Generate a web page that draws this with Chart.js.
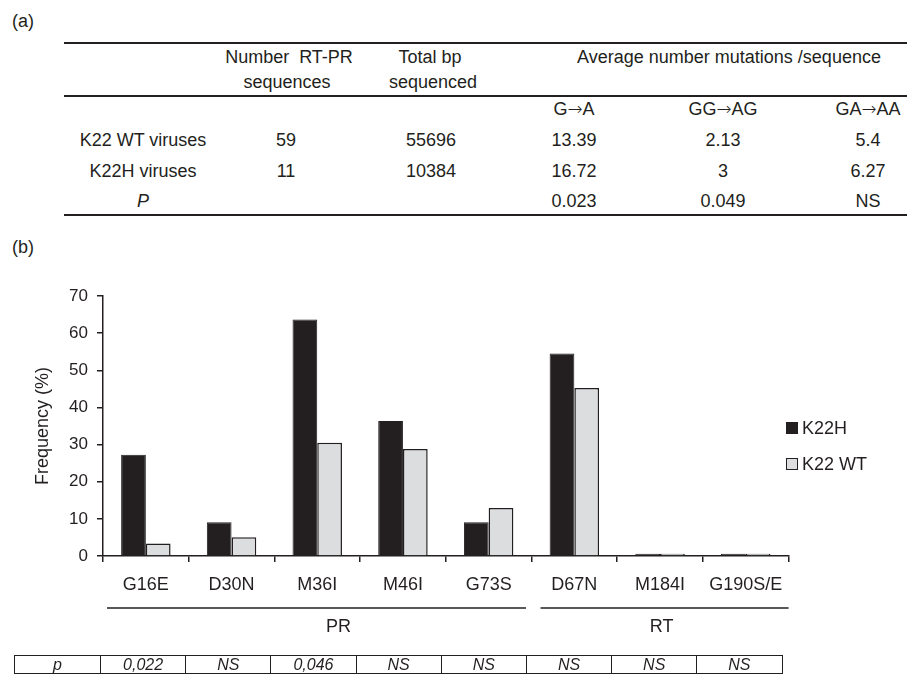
<!DOCTYPE html>
<html>
<head>
<meta charset="utf-8">
<script src="https://cdn.jsdelivr.net/npm/chart.js@4.4.1/dist/chart.umd.min.js"></script>
<style>
  body { margin: 0; background: #fff; }
  #page { position: relative; width: 907px; height: 676px; overflow: hidden;
          font-family: "Liberation Sans", Arial, sans-serif; color: #231f20; }
  .t { position: absolute; transform: translate(-50%, -50%); white-space: pre;
       font-size: 18px; line-height: 18px; }
  .arrow { font-family: "DejaVu Sans", sans-serif; font-weight: 200; }
  .rule { position: absolute; height: 2px; background: #231f20; }
  .it { font-style: italic; }
  #chartWrap { position: absolute; left: 0; top: 230px; width: 907px; height: 446px; }
  .key { position: absolute; width: 10px; height: 10px; border: 1px solid #231f20; }
  #ptable { position: absolute; left: 14px; top: 655px; border-collapse: collapse;
            table-layout: fixed; font-size: 16px; font-style: italic; }
  #ptable td { border: 1.5px solid #231f20; height: 17px; padding: 0; text-align: center; line-height: 17px; }
</style>
</head>
<body>
<div id="page">
  <div class="t" style="left:23px;top:21px;">(a)</div>
  <div class="t" style="left:23px;top:247px;">(b)</div>
  <div class="rule" style="left:64px;top:42px;width:843px;"></div>
  <div class="rule" style="left:64px;top:95px;width:843px;"></div>
  <div class="rule" style="left:64px;top:214px;width:843px;"></div>
  <div id="tableA"></div>

  <div id="chartWrap"><canvas id="chartFreq"></canvas></div>

  <div class="key" style="left:786px;top:422px;background:#231f20;"></div>
  <div class="t" style="left:802px;top:428px;transform:translate(0,-50%);">K22H</div>
  <div class="key" style="left:786px;top:458px;background:#dcdddf;"></div>
  <div class="t" style="left:802px;top:464px;transform:translate(0,-50%);">K22 WT</div>

  <table id="ptable"></table>
</div>

<script>
// (a) 표 데이터
const rowNames = ['K22 WT viruses', 'K22H viruses', 'P'];
const seqCount = ['59', '11', ''];
const totalBp = ['55696', '10384', ''];
const mutTypes = [['G', 'A'], ['GG', 'AG'], ['GA', 'AA']];
const gToA = ['13.39', '16.72', '0.023'];
const ggToAg = ['2.13', '3', '0.049'];
const gaToAa = ['5.4', '6.27', 'NS'];

// (b) 차트 데이터
const mutations = ['G16E', 'D30N', 'M36I', 'M46I', 'G73S', 'D67N', 'M184I', 'G190S/E'];
const k22h = [27.27, 9.09, 63.64, 36.36, 9.09, 54.55, 0.6, 0.6];
const k22wt = [3.39, 5.08, 30.51, 28.81, 12.9, 45.2, 0.6, 0.6];
const yTicks = [0, 10, 20, 30, 40, 50, 60, 70];
const groups = [{ name: 'PR', from: 0, to: 4 }, { name: 'RT', from: 5, to: 7 }];
const pLabel = 'p';
const pValues = ['0,022', 'NS', '0,046', 'NS', 'NS', 'NS', 'NS', 'NS'];

// 표 텍스트 배치
function putText(parent, text, x, y, cls) {
    const el = document.createElement('div');
    el.className = 't' + (cls ? ' ' + cls : '');
    el.style.left = x + 'px';
    el.style.top = y + 'px';
    el.textContent = text;
    parent.appendChild(el);
    return el;
}

const tableA = document.getElementById('tableA');
putText(tableA, 'Number  RT-PR', 289, 57);
putText(tableA, 'sequences', 287, 82);
putText(tableA, 'Total bp', 430, 57);
putText(tableA, 'sequenced', 433, 82);
putText(tableA, 'Average number mutations /sequence', 729, 57);
const colX = [574, 723, 868];
// 화살표는 DejaVu 글꼴로
mutTypes.forEach((m, i) => {
    const el = putText(tableA, '', colX[i], 109);
    el.append(m[0]);
    const arr = document.createElement('span');
    arr.className = 'arrow';
    arr.textContent = '\u2192';
    el.append(arr, m[1]);
});
const rowY = [140, 171, 201];
rowNames.forEach((name, r) => {
    putText(tableA, name, 143, rowY[r], r === 2 ? 'it' : '');
    if (seqCount[r]) putText(tableA, seqCount[r], 286, rowY[r]);
    if (totalBp[r]) putText(tableA, totalBp[r], 431, rowY[r]);
    putText(tableA, gToA[r], colX[0], rowY[r]);
    putText(tableA, ggToAg[r], colX[1], rowY[r]);
    putText(tableA, gaToAa[r], colX[2], rowY[r]);
});

// p 값 표
const ptable = document.getElementById('ptable');
const tr = document.createElement('tr');
[pLabel].concat(pValues).forEach((v, i) => {
    const td = document.createElement('td');
    td.style.width = (i === 0 ? 85 : 84.2) + 'px';
    td.textContent = v;
    tr.appendChild(td);
});
ptable.appendChild(tr);

// PR / RT 구간 선과 이름
const groupLines = {
    id: 'groupLines',
    afterDraw(chart) {
        const { ctx, chartArea, scales: { x } } = chart;
        const half = (x.getPixelForValue(1) - x.getPixelForValue(0)) / 2;
        const insets = [[4, 5.5], [9, 0]];
        const shift = [22, -3];
        const lineY = chartArea.bottom + 52;
        ctx.save();
        ctx.strokeStyle = '#231f20';
        ctx.lineWidth = 1.5;
        ctx.fillStyle = '#231f20';
        ctx.font = '18px "Liberation Sans", Arial, sans-serif';
        ctx.textAlign = 'center';
        ctx.textBaseline = 'middle';
        groups.forEach((g, i) => {
            const x0 = x.getPixelForValue(g.from) - half + insets[i][0];
            const x1 = x.getPixelForValue(g.to) + half - insets[i][1];
            ctx.beginPath();
            ctx.moveTo(x0, lineY);
            ctx.lineTo(x1, lineY);
            ctx.stroke();
            ctx.fillText(g.name, (x0 + x1) / 2 + shift[i], chartArea.bottom + 71);
        });
        ctx.restore();
    }
};

const ctx = document.getElementById('chartFreq').getContext('2d');
const chartFreq = new Chart(ctx, {
    type: 'bar',
    data: {
        labels: mutations,
        datasets: [{
            label: 'K22H',
            data: k22h,
            backgroundColor: '#231f20',
            borderColor: '#231f20',
            borderWidth: 1,
            categoryPercentage: 0.577,
            barPercentage: 1.0
        }, {
            label: 'K22 WT',
            data: k22wt,
            backgroundColor: '#dcdddf',
            borderColor: '#231f20',
            borderWidth: 1.5,
            categoryPercentage: 0.577,
            barPercentage: 1.0
        }]
    },
    options: {
        responsive: true,
        maintainAspectRatio: false,
        animation: false,
        layout: { padding: { left: 0, right: 118.4, top: 66, bottom: 0 } },
        plugins: {
            legend: { display: false },
            tooltip: { enabled: false }
        },
        scales: {
            x: {
                afterFit(scale) { scale.height = 120; },
                grid: { offset: true, drawOnChartArea: false, tickLength: 6, color: '#231f20', lineWidth: 1.5 },
                border: { color: '#231f20', width: 1.5 },
                ticks: { color: '#231f20', padding: 12, maxRotation: 0,
                         font: { family: '"Liberation Sans", Arial, sans-serif', size: 18 } }
            },
            y: {
                min: 0,
                max: 70,
                afterFit(scale) { scale.width = 103; },
                afterBuildTicks(scale) { scale.ticks = yTicks.map(v => ({ value: v })); },
                grid: { drawOnChartArea: false, tickLength: 6, color: '#231f20', lineWidth: 1.5 },
                border: { color: '#231f20', width: 1.5 },
                ticks: { color: '#231f20', padding: 9,
                         font: { family: '"Liberation Sans", Arial, sans-serif', size: 17 } },
                title: {
                    display: true,
                    text: 'Frequency (%)',
                    color: '#231f20',
                    padding: { top: 32, bottom: 0 },
                    font: { family: '"Liberation Sans", Arial, sans-serif', size: 18 }
                }
            }
        }
    },
    plugins: [groupLines]
});
</script>
</body>
</html>
